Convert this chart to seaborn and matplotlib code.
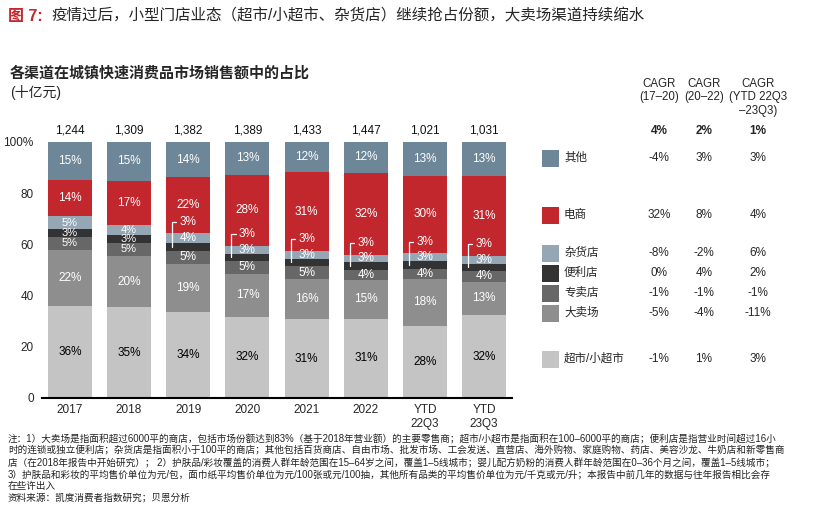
import numpy as np
import pandas as pd
import matplotlib.pyplot as plt
import seaborn as sns
from matplotlib.patches import Rectangle

periods = ['2017', '2018', '2019', '2020', '2021', '2022', 'YTD\n22Q3', 'YTD\n23Q3']
totals = ['1,244', '1,309', '1,382', '1,389', '1,433', '1,447', '1,021', '1,031']

# channels listed bottom -> top of the stack
channels = ['超市/小超市', '大卖场', '专卖店', '便利店', '杂货店', '电商', '其他']
supermarket = [36, 35, 34, 32, 31, 31, 28, 32]
hypermarket = [22, 20, 19, 17, 16, 15, 18, 13]
specialty = [5, 5, 5, 5, 5, 4, 4, 4]
convenience = [3, 3, 3, 3, 3, 3, 3, 3]
grocery = [5, 4, 4, 3, 3, 3, 3, 3]
ecommerce = [14, 17, 22, 28, 31, 32, 30, 31]
others = [15, 15, 14, 13, 12, 12, 13, 13]
colors = ['#c4c4c4', '#8e8e8e', '#676767', '#333333', '#95a6b5', '#c1272d', '#6e8798']

cagr_headers = ['CAGR\n(17–20)', 'CAGR\n(20–22)', 'CAGR\n(YTD 22Q3\n–23Q3)']
cagr_total = ['4%', '2%', '1%']
cagr_17_20 = ['-1%', '-5%', '-1%', '0%', '-8%', '32%', '-4%']
cagr_20_22 = ['1%', '-4%', '-1%', '4%', '-2%', '8%', '3%']
cagr_ytd = ['3%', '-11%', '-1%', '2%', '6%', '4%', '3%']

notes = [
    '注：1）大卖场是指面积超过6000平的商店，包括市场份额达到83%（基于2018年营业额）的主要零售商；超市/小超市是指面积在100–6000平的商店；便利店是指营业时间超过16小',
    '时的连锁或独立便利店；杂货店是指面积小于100平的商店；其他包括百货商店、自由市场、批发市场、工会发送、直营店、海外购物、家庭购物、药店、美容沙龙、牛奶店和新零售商',
    '店（在2018年报告中开始研究）； 2）护肤品/彩妆覆盖的消费人群年龄范围在15–64岁之间，覆盖1–5线城市；婴儿配方奶粉的消费人群年龄范围在0–36个月之间，覆盖1–5线城市；',
    '3）护肤品和彩妆的平均售价单位为元/包，面巾纸平均售价单位为元/100张或元/100抽，其他所有品类的平均售价单位为元/千克或元/升；本报告中前几年的数据与往年报告相比会存',
    '在些许出入',
    '资料来源：凯度消费者指数研究；贝恩分析',
]

sns.set_style('white')
plt.rcParams['font.family'] = ['Liberation Sans', 'Noto Sans CJK SC', 'DejaVu Sans']

W, H = 821, 521
fig = plt.figure(figsize=(W / 100, H / 100), dpi=100)


def fx(x):
    return x / W


def fy(y):
    return 1 - y / H


ax = fig.add_axes([fx(42), fy(398), (512 - 42) / W, (398 - 142) / H])

df = pd.DataFrame(dict(zip(channels, [supermarket, hypermarket, specialty, convenience,
                                      grocery, ecommerce, others])), index=periods)
share = df.div(df.sum(axis=1), axis=0) * 100
tops = share.cumsum(axis=1)
bottoms = tops - share

# overlay cumulative bars, tallest first
for ch, col in reversed(list(zip(channels, colors))):
    sns.barplot(x=periods, y=tops[ch].values, color=col, saturation=1, width=0.743,
                linewidth=0, errorbar=None, ax=ax)

bracket_periods = periods[2:]
small = ['专卖店', '便利店', '杂货店']
for i, p in enumerate(periods):
    for j, ch in enumerate(channels):
        mid = (tops.loc[p, ch] + bottoms.loc[p, ch]) / 2
        txt = f'{df.loc[p, ch]}%'
        tc = 'black' if ch == '超市/小超市' else 'white'
        fs = 8 if (ch in small and p not in bracket_periods) else 8.5
        if ch == '便利店' and p in bracket_periods:
            ylab = tops.loc[p, '杂货店'] + 4.5
            xb = i - 0.27
            ax.plot([xb, xb, xb + 0.07], [mid, ylab, ylab], color='white', lw=0.9)
            ax.text(i, ylab, txt, ha='center', va='center', color='white', fontsize=8.5)
        else:
            ax.text(i, mid, txt, ha='center', va='center', color=tc, fontsize=fs)
    ax.text(i, 104.3, totals[i], ha='center', va='center', fontsize=8.5, color='#111111')

ax.set_xlim(-0.47, 7.47)
ax.set_ylim(0, 100)
ax.set_yticks([0, 20, 40, 60, 80, 100])
ax.set_yticklabels(['0', '20', '40', '60', '80', '100%'])
ax.tick_params(axis='y', length=0, pad=6, labelsize=8.5)
ax.tick_params(axis='x', length=0, pad=4, labelsize=8.5)
for lab in ax.get_xticklabels():
    lab.set_linespacing(1.25)
ax.set_xlabel('')
ax.set_ylabel('')
sns.despine(ax=ax, left=True)
ax.spines['bottom'].set_color('black')
ax.spines['bottom'].set_linewidth(1.5)

# title + subtitle
fig.text(fx(8), fy(16), '图 7:', color='#c1272d', fontsize=11.5, fontweight='bold', va='center')
fig.text(fx(51), fy(16), '疫情过后，小型门店业态（超市/小超市、杂货店）继续抢占份额，大卖场渠道持续缩水',
         fontsize=11.2, va='center')
fig.text(fx(10), fy(73), '各渠道在城镇快速消费品市场销售额中的占比', fontsize=10.8,
         fontweight='bold', va='center')
fig.text(fx(10), fy(92), '(十亿元)', fontsize=10, va='center')

# CAGR legend table
col_x = [659, 704, 758]
row_y = [359, 313, 293, 273, 253, 215, 158]
for cx, hd, tot in zip(col_x, cagr_headers, cagr_total):
    fig.text(fx(cx), fy(78), hd, ha='center', va='top', fontsize=8.3, linespacing=1.15)
    fig.text(fx(cx), fy(131), tot, ha='center', va='center', fontsize=8.5, fontweight='bold')
for ch, col, ry, a, b, c in zip(channels, colors, row_y, cagr_17_20, cagr_20_22, cagr_ytd):
    fig.add_artist(Rectangle((fx(542), fy(ry + 8.5)), 17 / W, 17 / H,
                             transform=fig.transFigure, color=col, lw=0))
    fig.text(fx(564), fy(ry), ch, va='center', fontsize=8.3)
    for cx, v in zip(col_x, [a, b, c]):
        fig.text(fx(cx), fy(ry), v, ha='center', va='center', fontsize=8.5)

# footnotes
for k, line in enumerate(notes):
    fig.text(fx(8), fy(439 + k * 11.8), line, va='center', fontsize=6.9, color='#222222')

fig.savefig('out.png', dpi=100)
